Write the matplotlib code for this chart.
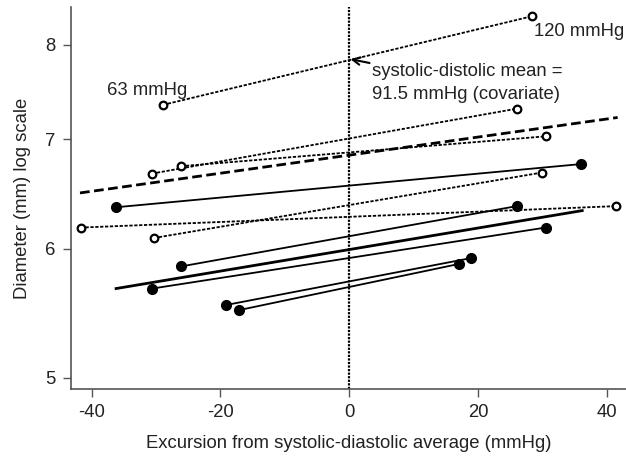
import numpy as np
import matplotlib.pyplot as plt

plt.rcParams['font.family'] = ['Liberation Sans', 'DejaVu Sans']
plt.rcParams['axes.unicode_minus'] = False

# Subjects measured at low and high pressure: excursion (mmHg) and diameter (mm)
open_x = [[-28.9, 28.4], [-30.6, 26.0], [-26.1, 30.5], [-41.7, 41.4], [-30.3, 30.0]]
open_y = [[7.35, 8.33], [6.67, 7.31], [6.74, 7.03], [6.18, 6.37], [6.09, 6.68]]

filled_x = [[-36.2, 36.0], [-26.1, 26.0], [-30.6, 30.5], [-19.1, 19.0], [-17.1, 17.0]]
filled_y = [[6.36, 6.76], [5.85, 6.37], [5.67, 6.18], [5.54, 5.92], [5.50, 5.87]]

# Group fitted lines
fit_dashed_x = [-41.8, 41.7]
fit_dashed_y = [6.49, 7.22]
fit_solid_x = [-36.2, 36.2]
fit_solid_y = [5.67, 6.33]

fs = 13.3

fig = plt.figure(figsize=(6.26, 4.57), dpi=100)
ax = fig.add_axes([0.1134, 0.1488, 0.8866, 0.836])

for xs, ys in zip(open_x, open_y):
    ax.plot(xs, ys, color='black', lw=1.3, linestyle=(0, (1.8, 0.9)),
            marker='o', markersize=5.5, markerfacecolor='white',
            markeredgewidth=1.6, markeredgecolor='black')

for xs, ys in zip(filled_x, filled_y):
    ax.plot(xs, ys, color='black', lw=1.3, marker='o', markersize=7,
            markerfacecolor='black', markeredgecolor='black')

ax.plot(fit_dashed_x, fit_dashed_y, color='black', lw=2.0, linestyle=(0, (3.5, 1.6)))
ax.plot(fit_solid_x, fit_solid_y, color='black', lw=2.0)

ax.axvline(0, color='black', lw=1.6, linestyle=(0, (1, 0.6)))

ax.set_yscale('log')
ax.set_xlim(-43.2, 43.0)
ax.set_ylim(4.92, 8.44)
ax.set_yticks([5, 6, 7, 8])
ax.set_yticklabels(['5', '6', '7', '8'])
ax.minorticks_off()
ax.set_xticks([-40, -20, 0, 20, 40])

for s in ['top', 'right']:
    ax.spines[s].set_visible(False)
for s in ['left', 'bottom']:
    ax.spines[s].set_color('#555555')
    ax.spines[s].set_linewidth(1.2)
ax.tick_params(direction='out', length=6, width=1.0, color='#555555',
               labelsize=fs, labelcolor='#222222', pad=5)

ax.set_xlabel('Excursion from systolic-diastolic average (mmHg)', fontsize=fs,
              color='#222222', labelpad=10)
ax.set_ylabel('Diameter (mm) log scale', fontsize=fs, color='#222222', labelpad=10)

ax.text(-37.6, 7.50, '63 mmHg', fontsize=fs, color='#222222', ha='left', va='center')
ax.text(28.7, 8.15, '120 mmHg', fontsize=fs, color='#222222', ha='left', va='center')
ax.annotate('systolic-distolic mean =\n91.5 mmHg (covariate)', xy=(0.2, 7.84),
            xytext=(3.6, 7.80), fontsize=fs, color='#222222', ha='left', va='top',
            linespacing=1.45,
            arrowprops=dict(arrowstyle='->', color='black', lw=1.5,
                            shrinkA=0, shrinkB=0))

fig.savefig('out.png', dpi=100)
